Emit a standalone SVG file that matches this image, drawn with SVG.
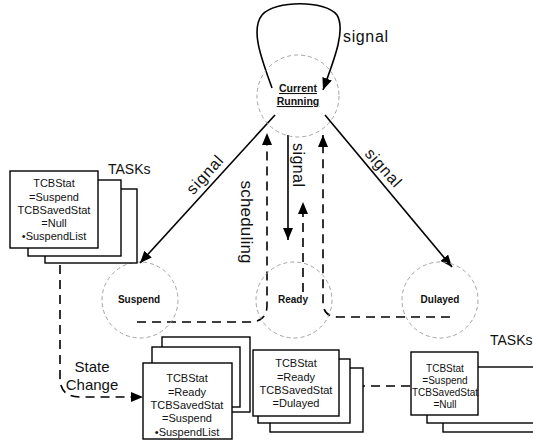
<svg xmlns="http://www.w3.org/2000/svg" width="533" height="440" viewBox="0 0 533 440">
<defs>
<marker id="ah" viewBox="0 0 12 10" refX="12" refY="5" markerWidth="12" markerHeight="10" markerUnits="userSpaceOnUse" orient="auto">
<path d="M0,0 L12,5 L0,10 z" fill="#000"/>
</marker>
<style>
.st{fill:none;stroke:#9a9a9a;stroke-width:0.9;stroke-dasharray:4,3}
.sl{fill:none;stroke:#000;stroke-width:1.6}
.da{fill:none;stroke:#000;stroke-width:1.6;stroke-dasharray:9,6}
.bx{fill:#fff;stroke:#000;stroke-width:1.4}
.lb{font-family:"Liberation Sans",Arial,sans-serif;font-size:16px;fill:#111}
.bt{font-family:"Liberation Sans",Arial,sans-serif;font-size:11px;fill:#111;text-anchor:middle}
.nt{font-family:"Liberation Sans",Arial,sans-serif;font-size:10px;font-weight:bold;fill:#111;text-anchor:middle}
</style>
</defs>
<rect width="533" height="440" fill="#fff"/>

<g id="connectors">
<path class="sl" d="M272,88 C262,60 250,30 262,15 C275,0 325,0 337,15 C346,30 334,60 323,90" marker-end="url(#ah)"/>
<path class="sl" d="M275,115 L140,263" marker-end="url(#ah)"/>
<path class="sl" d="M325,115 L452,267" marker-end="url(#ah)"/>
<path class="sl" d="M288,135 L288,240" marker-end="url(#ah)"/>
<path class="da" d="M137,322 H250 Q267,322 267,305 V133" marker-end="url(#ah)"/>
<path class="da" d="M303,292 V202" marker-end="url(#ah)"/>
<path class="da" d="M450,317 H338 Q323,317 323,302 V135" marker-end="url(#ah)"/>
<path class="da" d="M60,250 V378 Q60,397 80,397 H143" marker-end="url(#ah)"/>
<path class="da" d="M410,386 H348" marker-end="url(#ah)"/>
<text class="lb" x="343" y="42" textLength="45">signal</text>
<text class="lb" transform="translate(205,175) rotate(-48)" text-anchor="middle" y="5" textLength="46">signal</text>
<text class="lb" transform="translate(383,168) rotate(48)" text-anchor="middle" y="5" textLength="46">signal</text>
<text class="lb" transform="translate(293,165) rotate(90)" text-anchor="middle" y="0" textLength="44">signal</text>
<text class="lb" transform="translate(241,222) rotate(90)" text-anchor="middle" y="0" style="font-size:17px" textLength="83">scheduling</text>
<text class="lb" x="108" y="174" style="font-size:14px">TASKs</text>
<text class="lb" x="490" y="345" style="font-size:14px">TASKs</text>
<text class="lb" x="92" y="372" text-anchor="middle" style="font-size:15px">State</text>
<text class="lb" x="92" y="390" text-anchor="middle" style="font-size:15px">Change</text>
</g>

<g id="current-running">
<circle class="st" cx="298" cy="96" r="41"/>
<text class="nt" x="298" y="92" style="font-size:10.5px;text-decoration:underline">Current</text>
<text class="nt" x="298" y="105" style="font-size:10.5px;text-decoration:underline">Running</text>
</g>
<g id="suspend">
<circle class="st" cx="140" cy="300" r="38"/>
<text class="nt" x="139" y="303">Suspend</text>
</g>
<g id="ready">
<circle class="st" cx="294" cy="300" r="38"/>
<text class="nt" x="293" y="303">Ready</text>
</g>
<g id="dulayed">
<circle class="st" cx="440" cy="300" r="38"/>
<text class="nt" x="440" y="303">Dulayed</text>
</g>

<g id="tasks-suspend">
<rect class="bx" x="45" y="189" width="92" height="74"/>
<rect class="bx" x="28" y="180" width="93" height="76"/>
<rect class="bx" x="10" y="171" width="88" height="77"/>
<text class="bt" x="54" y="187">TCBStat</text>
<text class="bt" x="54" y="201">=Suspend</text>
<text class="bt" x="54" y="214">TCBSavedStat</text>
<text class="bt" x="54" y="227">=Null</text>
<text class="bt" x="54" y="240">•SuspendList</text>
</g>

<g id="tasks-ready-suspend">
<rect class="bx" x="162" y="337" width="88" height="75"/>
<rect class="bx" x="152" y="347" width="88" height="60"/>
<rect class="bx" x="143" y="363" width="89" height="76"/>
<text class="bt" x="187" y="382">TCBStat</text>
<text class="bt" x="187" y="396">=Ready</text>
<text class="bt" x="187" y="409">TCBSavedStat</text>
<text class="bt" x="187" y="422">=Suspend</text>
<text class="bt" x="187" y="436">•SuspendList</text>
</g>

<g id="tasks-ready-dulayed">
<rect class="bx" x="270" y="368" width="93" height="64"/>
<rect class="bx" x="258" y="359" width="92" height="64"/>
<rect class="bx" x="253" y="350" width="86" height="66"/>
<text class="bt" x="296" y="367">TCBStat</text>
<text class="bt" x="296" y="381">=Ready</text>
<text class="bt" x="296" y="394">TCBSavedStat</text>
<text class="bt" x="296" y="407">=Dulayed</text>
</g>

<g id="tasks-dulayed">
<rect class="bx" x="443" y="376" width="120" height="56"/>
<rect class="bx" x="427" y="367" width="120" height="56"/>
<rect class="bx" x="411" y="352" width="67" height="63"/>
<text class="bt" x="445" y="372" style="font-size:10px">TCBStat</text>
<text class="bt" x="445" y="384" style="font-size:10px">=Suspend</text>
<text class="bt" x="445" y="396" style="font-size:10px">TCBSavedStat</text>
<text class="bt" x="445" y="408" style="font-size:10px">=Null</text>
</g>
</svg>
